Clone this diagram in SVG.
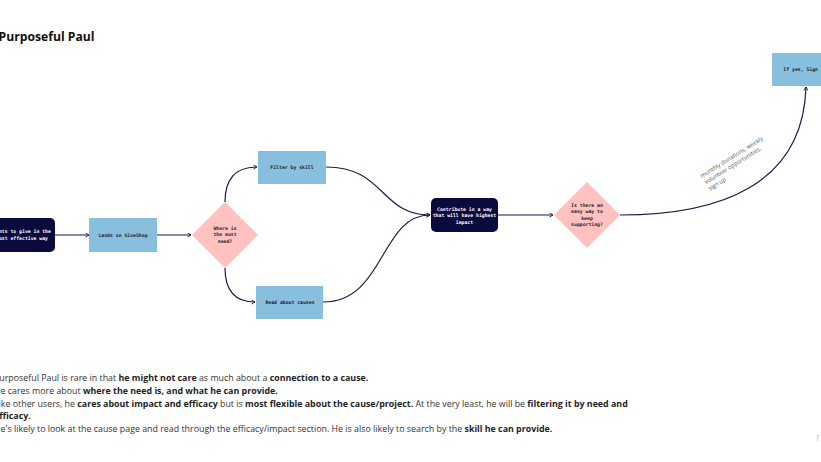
<svg xmlns="http://www.w3.org/2000/svg" width="821" height="462" viewBox="0 0 821 462">
<style>
.nt{font-family:"DejaVu Sans Mono","Liberation Mono",monospace;font-size:4.8px;font-weight:bold;text-anchor:middle;fill:#1b1b2e}
.wt{fill:#ffffff}
.dark{fill:#0b0a3d}
.blue{fill:#89bfde}
.pink{fill:#ffc2bf}
.con{fill:none;stroke:#1a1a4e;stroke-width:1.2;marker-end:url(#ah)}
.para{font-family:"Open Sans","Noto Sans",sans-serif;font-size:8.85px;fill:#333333}
.para tspan.b{font-weight:bold;fill:#1e1e1e}
.lbl{font-family:"Open Sans","Noto Sans",sans-serif;font-size:5.8px;fill:#555}
</style>
<defs>
<marker id="ah" viewBox="0 0 10 10" refX="9" refY="5" markerWidth="5" markerHeight="5" orient="auto" markerUnits="userSpaceOnUse">
<polyline points="2,1 9,5 2,9" fill="none" stroke="#1a1a4e" stroke-width="1.8"/>
</marker>
</defs>
<rect width="821" height="462" fill="#ffffff"/>
<text x="-1.5" y="41" font-family="'Open Sans','Noto Sans',sans-serif" font-size="12.2" font-weight="bold" fill="#111">Purposeful Paul</text>

<g id="connectors">
<path class="con" d="M55,235 L89,235"/>
<path class="con" d="M157,235 L191,235"/>
<path class="con" d="M225,202 C225,180 234,167 257,167"/>
<path class="con" d="M225,268 C225,290 234,302 255,302"/>
<path class="con" d="M326,167 C385,167 380,215 430,215"/>
<path class="con" d="M323,302 C385,302 380,215 430,215"/>
<path class="con" d="M498,215 L553,215"/>
<path class="con" d="M620,215 C720,215 803,185 806,87"/>
<g class="lbl" transform="translate(702,178) rotate(-32)">
<text x="0" y="0">monthly donations, weekly</text>
<text x="0" y="7.5">volunteer opportunities,</text>
<text x="0" y="15">sign up</text>
</g>
</g>

<g id="start">
<rect class="dark" x="-11" y="218" width="66" height="34" rx="5"/>
<text class="nt wt" x="22" y="233">Wants to give in the</text>
<text class="nt wt" x="22" y="239.5">most effective way</text>
</g>
<g id="lands">
<rect class="blue" x="89" y="218" width="68" height="34"/>
<text class="nt" x="123" y="236.5">Lands on GiveShop</text>
</g>
<g id="where">
<polygon class="pink" points="225,202 258,235 225,268 192,235"/>
<text class="nt" x="225" y="229.5">Where is</text>
<text class="nt" x="225" y="236">the most</text>
<text class="nt" x="225" y="242.5">need?</text>
</g>
<g id="filter">
<rect class="blue" x="258" y="151" width="68" height="33"/>
<text class="nt" x="292" y="168.5">Filter by skill</text>
</g>
<g id="read">
<rect class="blue" x="256" y="286" width="67" height="33"/>
<text class="nt" x="290" y="303.5">Read about causes</text>
</g>
<g id="contribute">
<rect class="dark" x="431" y="198" width="67" height="34" rx="5"/>
<text class="nt wt" x="464.5" y="210.5">Contribute in a way</text>
<text class="nt wt" x="464.5" y="217">that will have highest</text>
<text class="nt wt" x="464.5" y="223.5">impact</text>
</g>
<g id="easy">
<polygon class="pink" points="587,182 620,215 587,248 554,215"/>
<text class="nt" x="587" y="206.5">Is there an</text>
<text class="nt" x="587" y="213">easy way to</text>
<text class="nt" x="587" y="219.5">keep</text>
<text class="nt" x="587" y="226">supporting?</text>
</g>
<g id="signup">
<rect class="blue" x="772" y="53" width="66" height="33"/>
<text class="nt" x="805" y="70.5">If yes, Sign up</text>
</g>

<g id="notes" class="para">
<text x="-6" y="381">Purposeful Paul is rare in that <tspan class="b">he might not care</tspan> as much about a <tspan class="b">connection to a cause.</tspan></text>
<text x="-6" y="394">He cares more about <tspan class="b">where the need is, and what he can provide.</tspan></text>
<text x="-6" y="407">Like other users, he <tspan class="b">cares about impact and efficacy</tspan> but is <tspan class="b">most flexible about the cause/project.</tspan> At the very least, he will be <tspan class="b">filtering it by need and</tspan></text>
<text x="-6" y="419"><tspan class="b">efficacy.</tspan></text>
<text x="-6" y="432">He's likely to look at the cause page and read through the efficacy/impact section. He is also likely to search by the <tspan class="b">skill he can provide.</tspan></text>
</g>
<text x="816" y="441" font-family="'Open Sans',sans-serif" font-size="11" fill="#d0d0d0">r</text>
</svg>
